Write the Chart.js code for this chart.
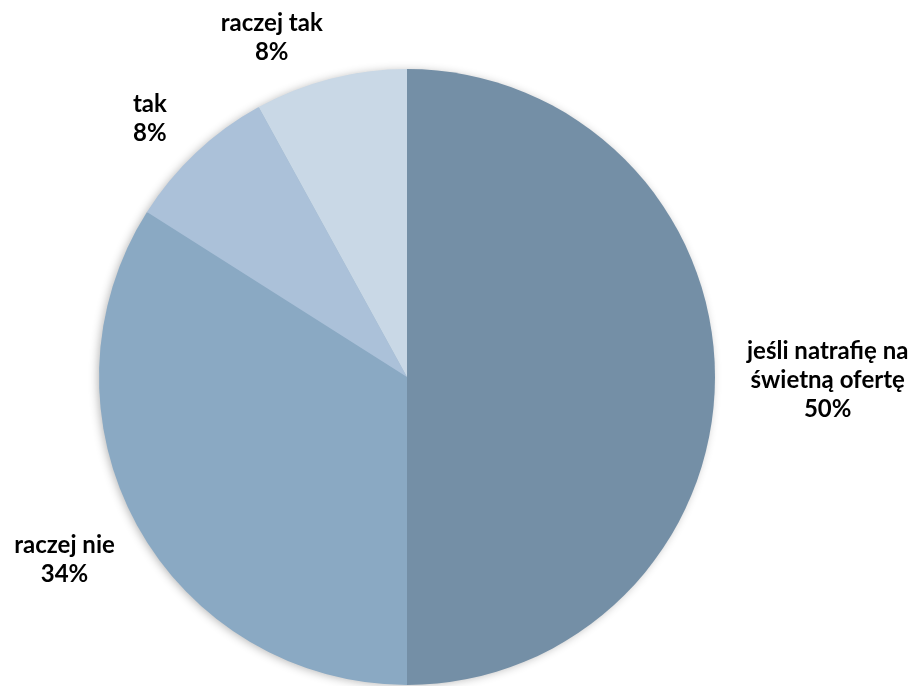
<!DOCTYPE html>
<html lang="pl">
<head>
<meta charset="UTF-8">
<title>Pie</title>
<script src="https://cdn.jsdelivr.net/npm/chart.js"></script>
<style>
  html, body { margin: 0; padding: 0; background: #fff; }
  #box { width: 919px; height: 686px; position: relative; }
</style>
</head>
<body>
<div id="box"><canvas id="pie"></canvas></div>
<script>
// dane z wykresu
var kategorie = [['jeśli natrafię na', 'świetną ofertę'], ['raczej nie'], ['tak'], ['raczej tak']];
var wartosci = [50, 34, 8, 8];
var kolory = ['#748FA6', '#8AA9C3', '#ABC1D9', '#C9D8E6'];

// przesunięcia etykiet względem pozycji wyliczonej z łuku
var przesuniecia = [[12, 3], [-11, 11], [-21, 2], [-41, 7]];

// cień pod całym kołem (raz, nie pod każdym wycinkiem)
var cien = {
  id: 'cien',
  beforeDatasetsDraw: function (chart) {
    var arc = chart.getDatasetMeta(0).data[0];
    if (!arc) return;
    var ctx = chart.ctx;
    ctx.save();
    ctx.shadowColor = 'rgba(0,0,0,0.3)';
    ctx.shadowBlur = 10;
    ctx.shadowOffsetX = -2;
    ctx.shadowOffsetY = 1;
    ctx.fillStyle = '#8AA9C3';
    ctx.beginPath();
    ctx.arc(arc.x, arc.y, arc.outerRadius - 1, 0, Math.PI * 2);
    ctx.fill();
    ctx.restore();
  }
};

var etykiety = {
  id: 'etykiety',
  afterDatasetsDraw: function (chart) {
    var ctx = chart.ctx;
    var meta = chart.getDatasetMeta(0);
    var suma = wartosci.reduce(function (a, b) { return a + b; }, 0);
    ctx.save();
    ctx.font = 'bold 24px Lato, "DejaVu Sans", sans-serif';
    ctx.fillStyle = '#000';
    ctx.textAlign = 'center';
    ctx.textBaseline = 'middle';
    var lh = 29;
    meta.data.forEach(function (arc, i) {
      var p = arc.getProps(['x', 'y', 'startAngle', 'endAngle', 'outerRadius'], true);
      var mid = (p.startAngle + p.endAngle) / 2;
      var dx = Math.cos(mid), dy = Math.sin(mid);
      var linie = kategorie[i].concat([Math.round(wartosci[i] / suma * 100) + '%']);
      var w = 0;
      linie.forEach(function (t) { w = Math.max(w, ctx.measureText(t).width); });
      var h = linie.length * lh;
      var ax = p.x + dx * (p.outerRadius + 20);
      var ay = p.y + dy * (p.outerRadius + 20);
      var cx = ax + dx * w / 2 + przesuniecia[i][0];
      var cy = ay + dy * h / 2 + przesuniecia[i][1];
      linie.forEach(function (t, k) {
        ctx.fillText(t, cx, cy - h / 2 + lh / 2 + k * lh);
      });
    });
    ctx.restore();
  }
};

new Chart(document.getElementById('pie'), {
  type: 'pie',
  data: {
    labels: kategorie.map(function (k) { return k.join(' '); }),
    datasets: [{
      data: wartosci,
      backgroundColor: kolory,
      borderWidth: 0
    }]
  },
  options: {
    responsive: true,
    maintainAspectRatio: false,
    animation: false,
    layout: { padding: { left: 99, right: 204, top: 69, bottom: 1 } },
    plugins: {
      legend: { display: false },
      tooltip: { enabled: false }
    }
  },
  plugins: [cien, etykiety]
});
</script>
</body>
</html>
